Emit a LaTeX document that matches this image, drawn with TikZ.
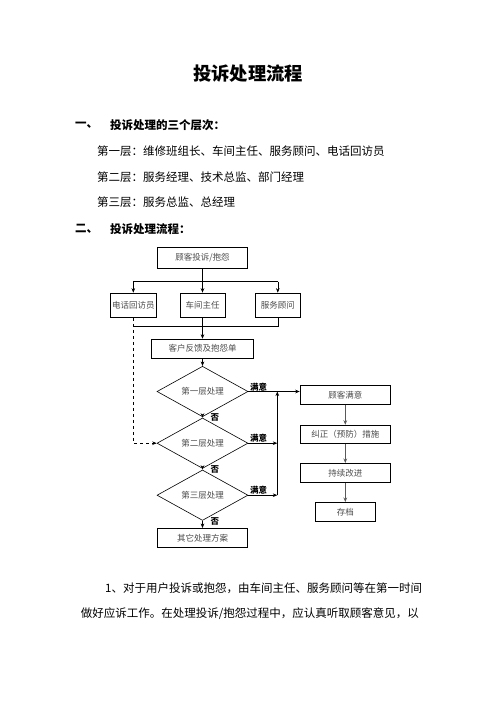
\documentclass[tikz,border=0pt]{standalone}
\usepackage{fontspec}
\setmainfont{Noto Sans CJK SC}
\usepackage{tikz}
\usetikzlibrary{positioning, shapes.geometric, arrows.meta, calc}

\begin{document}
\begin{tikzpicture}[x=1pt, y=-1pt,
  txt/.style={anchor=west, inner sep=0pt, font=\fontsize{11.5}{12}\selectfont},
  head/.style={txt, font=\bfseries\fontsize{11.5}{12}\selectfont},
  box/.style={draw, rectangle, line width=0.6pt, inner sep=0pt, text=black!70,
    font=\fontsize{8.5}{9}\selectfont},
  dia/.style={draw, diamond, line width=0.6pt, inner sep=0pt, text=black!70,
    minimum width=91pt, minimum height=38.4pt, font=\fontsize{8.5}{9}\selectfont},
  lbl/.style={inner sep=0pt, font=\bfseries\fontsize{8.5}{9}\selectfont},
  arr/.style={line width=0.6pt, -{Stealth[length=4.5pt, width=3.6pt]}},
  garr/.style={arr, draw=black!65, line width=1.1pt}
]
\useasboundingbox (0,0) rectangle (496,702);
\fill[white] (0,0) rectangle (496,702);

% title and headings
\node[font=\bfseries\fontsize{18.3}{19}\selectfont] (title) at (248,74) {投诉处理流程};

\node[head] (n1) at (75,125) {一、};
\node[head] (h1) at (110,125) {投诉处理的三个层次：};
\node[txt] (l1) at (97,151) {第一层：维修班组长、车间主任、服务顾问、电话回访员};
\node[txt] (l2) at (97,177) {第二层：服务经理、技术总监、部门经理};
\node[txt] (l3) at (97,202.5) {第三层：服务总监、总经理};
\node[head] (n2) at (75,229) {二、};
\node[head] (h2) at (110,229) {投诉处理流程：};

% flowchart
\node[box, minimum width=90.4pt, minimum height=21pt] (complain) at (202.5,257.8) {顾客投诉/抱怨};
\node[box, minimum width=46.7pt, minimum height=24.7pt] (phone) at (133.3,305.3) {电话回访员};
\node[box, minimum width=45pt, minimum height=24.7pt] (workshop) at (202.5,305.3) {车间主任};
\node[box, minimum width=44.3pt, minimum height=24.7pt] (advisor) at (277.8,305.3) {服务顾问};
\node[box, minimum width=101.7pt, minimum height=19.3pt] (feedback) at (202.5,348.7) {客户反馈及抱怨单};

\node[dia] (d1) at (202.5,391.5) {第一层处理};
\node[dia] (d2) at (202.5,443.2) {第二层处理};
\node[dia] (d3) at (202.5,495.2) {第三层处理};
\node[box, minimum width=90pt, minimum height=19pt] (other) at (202.5,537.8) {其它处理方案};

\node[box, minimum width=90.7pt, minimum height=19pt] (satisfied) at (345.3,394.8) {顾客满意};
\node[box, minimum width=90.7pt, minimum height=18.3pt] (correct) at (345.3,434.2) {纠正（预防）措施};
\node[box, minimum width=90.7pt, minimum height=19pt] (improve) at (345.3,472.8) {持续改进};
\node[box, minimum width=59.6pt, minimum height=19pt] (archive) at (345.3,511.8) {存档};

\coordinate (fork) at (202.5,281.7);
\coordinate (join) at (202.5,326.5);
\coordinate (bus) at (277.3,391.5);

\draw[line width=0.6pt] (complain) -- (fork);
\draw[line width=0.6pt] (fork -| phone) -- (fork -| advisor);
\draw[arr] (fork -| phone) -- (phone.north);
\draw[arr] (fork) -- (workshop.north);
\draw[arr] (fork -| advisor) -- (advisor.north);

\draw[line width=0.6pt] (advisor.south) -- (join -| advisor) -- (join -| phone);
\draw[arr] (workshop) -- (feedback);
\draw[arr, dashed] (phone.south) |- (d2.west);

\draw[arr] (feedback) -- (d1);
\draw[arr] (d1) -- (d2);
\draw[arr] (d2) -- (d3);
\draw[arr] (d3) -- (other);

\draw[arr] (d1.east) -- (d1.east -| satisfied.west);
\draw[arr] (d2.east) -- (d2 -| bus);
\draw[arr] (d3.east) -- (d3 -| bus);
\draw[arr] (d3 -| bus) -- (bus);

\node[lbl, anchor=south west] (ok1) at ($(d1.east)+(1.5,-0.5)$) {满意};
\node[lbl, anchor=south west] (ok2) at ($(d2.east)+(1.5,-0.5)$) {满意};
\node[lbl, anchor=south west] (ok3) at ($(d3.east)+(1.5,-0.5)$) {满意};
\node[lbl, anchor=west] (no1) at ($(d1.south)+(8,0.5)$) {否};
\node[lbl, anchor=west] (no2) at ($(d2.south)+(8,0.5)$) {否};
\node[lbl, anchor=west] (no3) at ($(d3.south)+(8,0.5)$) {否};

\draw[garr] (satisfied) -- (correct);
\draw[garr] (correct) -- (improve);
\draw[garr] (improve) -- (archive);

% body text
\node[txt] (p1) at (105,588) {1、对于用户投诉或抱怨，由车间主任、服务顾问等在第一时间};
\node[txt] (p2) at (80.7,613.3) {做好应诉工作。在处理投诉/抱怨过程中，应认真听取顾客意见，以};

\end{tikzpicture}
\end{document}
